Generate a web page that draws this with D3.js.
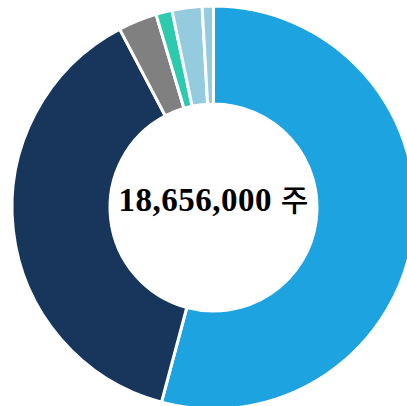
<!DOCTYPE html>
<html>
<head>
<meta charset="utf-8">
<script src="https://cdn.jsdelivr.net/npm/d3@7"></script>
<style>
html, body { margin: 0; padding: 0; background: #fff; }
svg { display: block; }
</style>
</head>
<body>
<svg id="chart" width="407" height="406"></svg>
<script>
const categories = ["A", "B", "C", "D", "E", "F"];
const values = [54.1, 38.1, 3.1, 1.3, 2.4, 0.9];
const colors = ["#1DA3E0", "#18365C", "#808080", "#2CCBAE", "#94CBDF", "#94CBDF"];
const totalLabel = "18,656,000";
const unitLabel = "주";

const svg = d3.select("#chart");
const cx = 213.5, cy = 207.5;
const g = svg.append("g").attr("transform", `translate(${cx},${cy})`);

const data = categories.map((c, i) => ({ name: c, value: values[i], color: colors[i] }));
const pie = d3.pie().value(d => d.value).sort(null);
const arc = d3.arc().innerRadius(103.5).outerRadius(201.5);

g.selectAll("path")
  .data(pie(data))
  .join("path")
  .attr("d", arc)
  .attr("fill", d => d.data.color)
  .attr("stroke", "#fff")
  .attr("stroke-width", 3)
  .attr("stroke-linejoin", "miter");

const t = g.append("text")
  .attr("x", 0)
  .attr("y", 3)
  .attr("text-anchor", "middle")
  .attr("fill", "#000");
t.append("tspan")
  .attr("font-family", "'Liberation Serif', serif")
  .attr("font-weight", "bold")
  .attr("font-size", 33)
  .attr("letter-spacing", 0.5)
  .text(totalLabel + " ");
t.append("tspan")
  .attr("font-family", "'Noto Sans CJK KR', sans-serif")
  .attr("font-weight", 500)
  .attr("font-size", 30)
  .text(unitLabel);
</script>
</body>
</html>
